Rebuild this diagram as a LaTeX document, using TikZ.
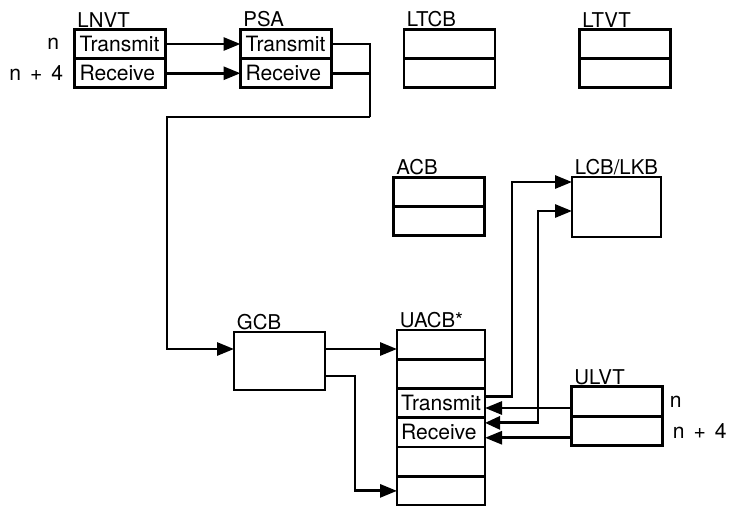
\documentclass[tikz,border=0pt]{standalone}
\usepackage{fontspec}
\setmainfont{TeX Gyre Heros}
\usetikzlibrary{positioning,arrows.meta}

\begin{document}
\begin{tikzpicture}[
    font=\fontsize{12}{14}\selectfont,
    cell/.style={draw, line width=1.6pt, text width=1.62cm, inner xsep=0.1cm, inner ysep=0pt, outer sep=0pt, minimum height=0.585cm, align=left},
    blk/.style={draw, line width=1.6pt, minimum width=1.82cm, inner sep=0pt, outer sep=0pt},
    tag/.style={anchor=south west, inner xsep=1.5pt, inner ysep=1pt, font=\fontsize{11.6}{13}\selectfont},
    side/.style={inner sep=0pt},
    wire/.style={line width=1.6pt},
    arr/.style={wire, -{Triangle[length=0.34cm, width=0.26cm]}},
    both/.style={wire, {Triangle[length=0.3cm, width=0.26cm]}-{Triangle[length=0.34cm, width=0.26cm]}}
]
\useasboundingbox (0,0) rectangle (14.7,-10.1);

% Top row of tables
\node[cell] (lnvt1) at (2.40,-0.88) {Transmit};
\node[cell, below=0pt of lnvt1] (lnvt2) {Receive};
\node[tag] (lnvtlab) at (lnvt1.north west) {LNVT};
\node[side, left=0.3cm of lnvt1] (lnvtn) {n};
\node[side, left=0.22cm of lnvt2] (lnvtn4) {n\hspace{0.15em} + \hspace{0.15em}4};

\node[cell] (psa1) at (5.72,-0.88) {Transmit};
\node[cell, below=0pt of psa1] (psa2) {Receive};
\node[tag] (psalab) at (psa1.north west) {PSA};

\node[cell] (ltcb1) at (8.99,-0.88) {};
\node[cell, below=0pt of ltcb1] (ltcb2) {};
\node[tag] (ltcblab) at (ltcb1.north west) {LTCB};

\node[cell] (ltvt1) at (12.50,-0.88) {};
\node[cell, below=0pt of ltvt1] (ltvt2) {};
\node[tag] (ltvtlab) at (ltvt1.north west) {LTVT};

% Middle row
\node[cell] (acb1) at (8.78,-3.84) {};
\node[cell, below=0pt of acb1] (acb2) {};
\node[tag] (acblab) at (acb1.north west) {ACB};

\node[blk, minimum width=1.78cm, minimum height=1.2cm] (lcb) at (12.33,-4.14) {};
\node[tag] (lcblab) at (lcb.north west) {LCB/LKB};

% Bottom row
\node[blk, minimum height=1.16cm] (gcb) at (5.59,-7.22) {};
\node[tag] (gcblab) at (gcb.north west) {GCB};

\node[cell, text width=1.6cm, inner xsep=0.08cm] (uacb1) at (8.82,-6.8925) {};
\node[cell, text width=1.6cm, inner xsep=0.08cm, below=0pt of uacb1] (uacb2) {};
\node[cell, text width=1.6cm, inner xsep=0.08cm, below=0pt of uacb2] (uacb3) {Transmit};
\node[cell, text width=1.6cm, inner xsep=0.08cm, below=0pt of uacb3] (uacb4) {Receive};
\node[cell, text width=1.6cm, inner xsep=0.08cm, below=0pt of uacb4] (uacb5) {};
\node[cell, text width=1.6cm, inner xsep=0.08cm, below=0pt of uacb5] (uacb6) {};
\node[tag] (uacblab) at (uacb1.north west) {UACB*};

\node[cell] (ulvt1) at (12.34,-8.03) {};
\node[cell, below=0pt of ulvt1] (ulvt2) {};
\node[tag] (ulvtlab) at (ulvt1.north west) {ULVT};
\node[side, right=0.14cm of ulvt1] (ulvtn) {n};
\node[side, right=0.2cm of ulvt2] (ulvtn4) {n\hspace{0.15em} + \hspace{0.15em}4};

% LNVT -> PSA
\draw[arr] (lnvt1.east) -- (psa1.west);
\draw[arr] (lnvt2.east) -- (psa2.west);

% PSA -> GCB
\coordinate (bus) at (7.40,-2.34);
\coordinate (bend) at (3.34,-2.34);
\draw[wire] (psa1.east) -| (bus);
\draw[wire] (psa2.east) -- (psa2.east -| bus);
\draw[arr] (bus) -- (bend) |- ([yshift=0.24cm]gcb.west);

% GCB -> UACB
\coordinate (g1) at ([yshift=0.24cm]gcb.east);
\draw[arr] (g1) -- (g1 -| uacb1.west);
\draw[arr] ([yshift=-0.3cm]gcb.east) -- ++(0.6,0) |- (uacb6.west);

% UACB <-> LCB/LKB
\draw[arr] ([yshift=0.14cm]uacb3.east) -- ++(0.54,0) |- ([yshift=0.5cm]lcb.west);
\draw[both] ([yshift=0.19cm]uacb4.east) -- ++(1.06,0) |- ([yshift=-0.08cm]lcb.west);

% ULVT -> UACB
\coordinate (u1) at ([yshift=-0.13cm]ulvt1.west);
\coordinate (u2) at ([yshift=-0.14cm]ulvt2.west);
\draw[arr] (u1) -- (u1 -| uacb3.east);
\draw[arr] (u2) -- (u2 -| uacb4.east);

\end{tikzpicture}
\end{document}
